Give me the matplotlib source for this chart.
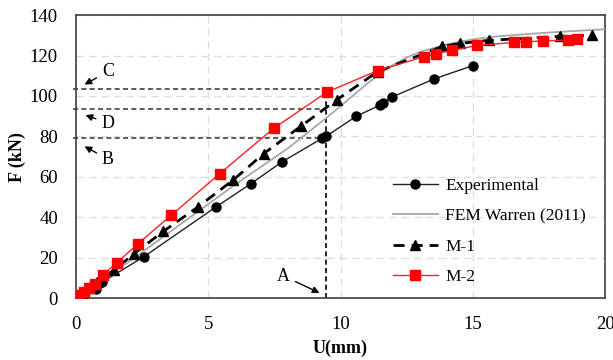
import numpy as np
import matplotlib.pyplot as plt

plt.rcParams['font.family'] = ['Liberation Serif', 'DejaVu Serif']

# Experimental
exp_u = [0, 0.3, 0.75, 1.0, 2.57, 5.28, 6.6, 7.8, 9.3, 9.45, 10.6, 11.5, 11.6, 11.95, 13.55, 15.0]
exp_f = [0, 2, 4.5, 8, 20.5, 45, 56.5, 67.5, 79, 80, 90, 95.5, 96.5, 99.5, 108.5, 115]

# FEM Warren (2011)
fem_u = [0, 2, 4, 6, 8, 9.5, 10.5, 11, 11.5, 12, 12.5, 13, 14, 15, 16, 18, 20]
fem_f = [0, 18, 37, 56, 74, 89.5, 100.5, 106, 111, 115.5, 119, 121.8, 125.5, 128, 129.6, 131.5, 133]

# M-1
m1_u = [0, 0.2, 0.5, 0.8, 1.45, 2.2, 3.3, 4.6, 5.95, 7.1, 8.5, 9.85, 11.4, 13.85, 14.5, 15.6, 18.3, 19.5]
m1_f = [0, 2, 5, 8, 14, 22, 33, 45, 58.5, 71.5, 85, 98, 112, 124.5, 126, 127.5, 129.5, 130]

# M-2
m2_u = [0, 0.1, 0.3, 0.5, 0.72, 1.02, 1.55, 2.35, 3.6, 5.43, 7.47, 9.5, 11.4, 13.17, 13.6, 14.2,
        15.17, 16.57, 17.0, 17.66, 18.6, 18.94]
m2_f = [0, 1.5, 3, 5, 7, 11.5, 17.5, 27, 41, 61.5, 84, 102, 112.5, 119.5, 121, 122.5,
        125, 126.5, 126.8, 127.2, 127.7, 128.2]

# reference levels
u_a = 9.45
levels = {'C': 103.3, 'D': 93.6, 'B': 79}

fig = plt.figure(figsize=(6.13, 3.6), dpi=100)
ax = fig.add_axes([0.124, 0.172, 0.863, 0.786])

ax.plot(exp_u, exp_f, color='#202020', lw=1.0, marker='o', ms=6.5, mfc='black', mec='black',
        label='Experimental', zorder=5)
ax.plot(fem_u, fem_f, color='#a8a8a8', lw=1.3, label='FEM Warren (2011)', zorder=3)
ax.plot(m1_u, m1_f, color='black', lw=2.0, ls=(0, (4, 2.5)), marker='^', ms=6.5,
        label='M-1', zorder=4)
ax.plot(m2_u, m2_f, color='#ff2020', lw=1.0, marker='s', ms=6.5, mfc='#ff0000', mec='#ff0000',
        label='M-2', zorder=6)

for k, v in levels.items():
    ax.plot([-0.12, u_a], [v, v], color='#404040', lw=1.2, ls=(0, (3, 2)), clip_on=False, zorder=2)
ax.plot([u_a, u_a], [0, levels['C']], color='black', lw=1.2, ls=(0, (3, 2)), zorder=2)

arrowprops = dict(arrowstyle='-|>', color='black', lw=1.0, mutation_scale=10)
ax.annotate('C', xy=(0.23, 105), xytext=(1.2, 112), fontsize=13, ha='center', va='center',
            arrowprops=arrowprops)
ax.annotate('D', xy=(0.26, 91), xytext=(1.2, 86.6), fontsize=13, ha='center', va='center',
            arrowprops=arrowprops)
ax.annotate('B', xy=(0.23, 75.7), xytext=(1.2, 68.8), fontsize=13, ha='center', va='center',
            arrowprops=arrowprops)
ax.annotate('A', xy=(9.3, 2), xytext=(7.85, 10.9), fontsize=13, ha='center', va='center',
            arrowprops=arrowprops)

ax.set_xlim(0, 20)
ax.set_ylim(0, 140)
ax.set_xticks([0, 5, 10, 15, 20])
ax.set_yticks(np.arange(0, 141, 20))
ax.grid(True, color='#dcdcdc', ls=(0, (6, 4)), lw=0.9)
ax.set_axisbelow(True)
ax.tick_params(length=0, labelsize=13.5)
ax.tick_params(axis='y', pad=13)
ax.tick_params(axis='x', pad=13)
for s in ax.spines.values():
    s.set_color('#404040')
    s.set_linewidth(1.2)

ax.set_xlabel('U(mm)', fontsize=13, fontweight='bold', labelpad=5)
ax.set_ylabel('F (kN)', fontsize=13, fontweight='bold', labelpad=3)

ax.legend(loc='lower left', bbox_to_anchor=(0.599, 0.045), frameon=False, fontsize=12.5,
          handlelength=2.6, labelspacing=0.83, handletextpad=0.4, borderpad=0, borderaxespad=0)

plt.savefig('out.png', dpi=100)
